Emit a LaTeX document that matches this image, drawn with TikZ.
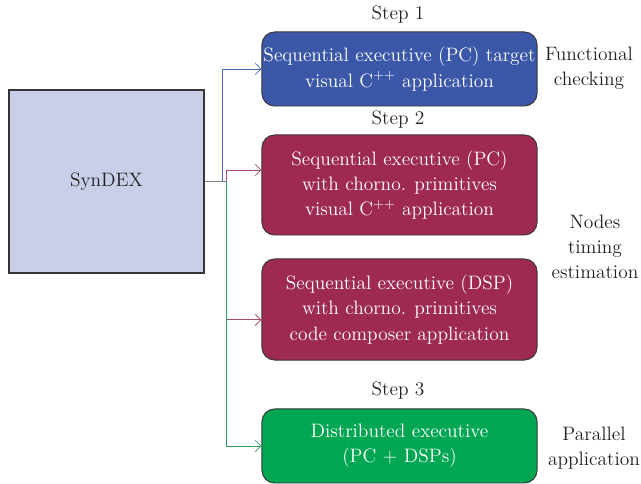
\documentclass[tikz,border=0pt]{standalone}
\usepackage{tikz}
\usetikzlibrary{arrows.meta}
\usetikzlibrary{positioning}

\definecolor{synfill}{HTML}{C9CFE8}
\definecolor{stepblue}{HTML}{3B58A8}
\definecolor{stepred}{HTML}{9E2B4F}
\definecolor{stepgreen}{HTML}{00A651}
\definecolor{lineblue}{HTML}{4A66B8}
\definecolor{linered}{HTML}{B04A6A}
\definecolor{linegreen}{HTML}{2E9E5E}
\definecolor{inkgray}{HTML}{231F20}

\begin{document}
\begin{tikzpicture}[x=0.025cm, y=-0.025cm,
    font=\fontsize{13.8}{18}\selectfont,
    >={Straight Barb[length=4pt,width=8pt]},
    execbox/.style={draw=inkgray!90, line width=0.7pt, rounded corners=9pt,
        minimum width=6.875cm, inner xsep=1pt, align=center, text=white},
    sidelabel/.style={align=center, text=inkgray, inner sep=0pt},
    link/.style={line width=0.6pt}]
    \useasboundingbox (0,0) rectangle (641,484);

    % SynDEX block
    \node[draw=inkgray!90, line width=0.8pt, fill=synfill, minimum width=4.875cm,
        minimum height=4.575cm, text=inkgray] (syndex) at (106.5,181.5) {SynDEX};

    % Executive blocks
    \node[execbox, fill=stepblue, minimum height=1.85cm] (seqpc) at (399.5,69)
        {Sequential executive (PC) target\\visual C$^{++}$ application};
    \node[execbox, fill=stepred, minimum height=2.5cm] (chronopc) at (399.5,185)
        {Sequential executive (PC)\\with chorno. primitives\\visual C$^{++}$ application};
    \node[execbox, fill=stepred, minimum height=2.525cm] (chronodsp) at (399.5,309.5)
        {Sequential executive (DSP)\\with chorno. primitives\\code composer application};
    \node[execbox, fill=stepgreen, minimum height=1.85cm] (distrib) at (399.5,446)
        {Distributed executive\\(PC + DSPs)};

    % Step labels
    \node[text=inkgray] (step1) at (398,15) {Step 1};
    \node[text=inkgray] (step2) at (398,120) {Step 2};
    \node[text=inkgray] (step3) at (398,391) {Step 3};

    % Side labels
    \node[sidelabel] (functional) at (589,68) {Functional\\checking};
    \node[sidelabel] (timing) at (595,247) {Nodes\\timing\\estimation};
    \node[sidelabel] (parallel) at (594,448) {Parallel\\application};

    % Fan-out points
    \coordinate (bsplit) at (222,181.5);
    \coordinate (split) at (226,181.5);

    % Connectors
    \draw[link, draw=gray] (syndex.east) -- (split);
    \draw[link, draw=lineblue, ->] (bsplit) |- (seqpc.west);
    \draw[link, draw=linered, ->] (split) |- ([yshift=0.375cm]chronopc.west);
    \draw[link, draw=linered, ->] (split) |- ([yshift=-0.26cm]chronodsp.west);
    \draw[link, draw=linegreen, ->] (split) |- (distrib.west);
\end{tikzpicture}
\end{document}
